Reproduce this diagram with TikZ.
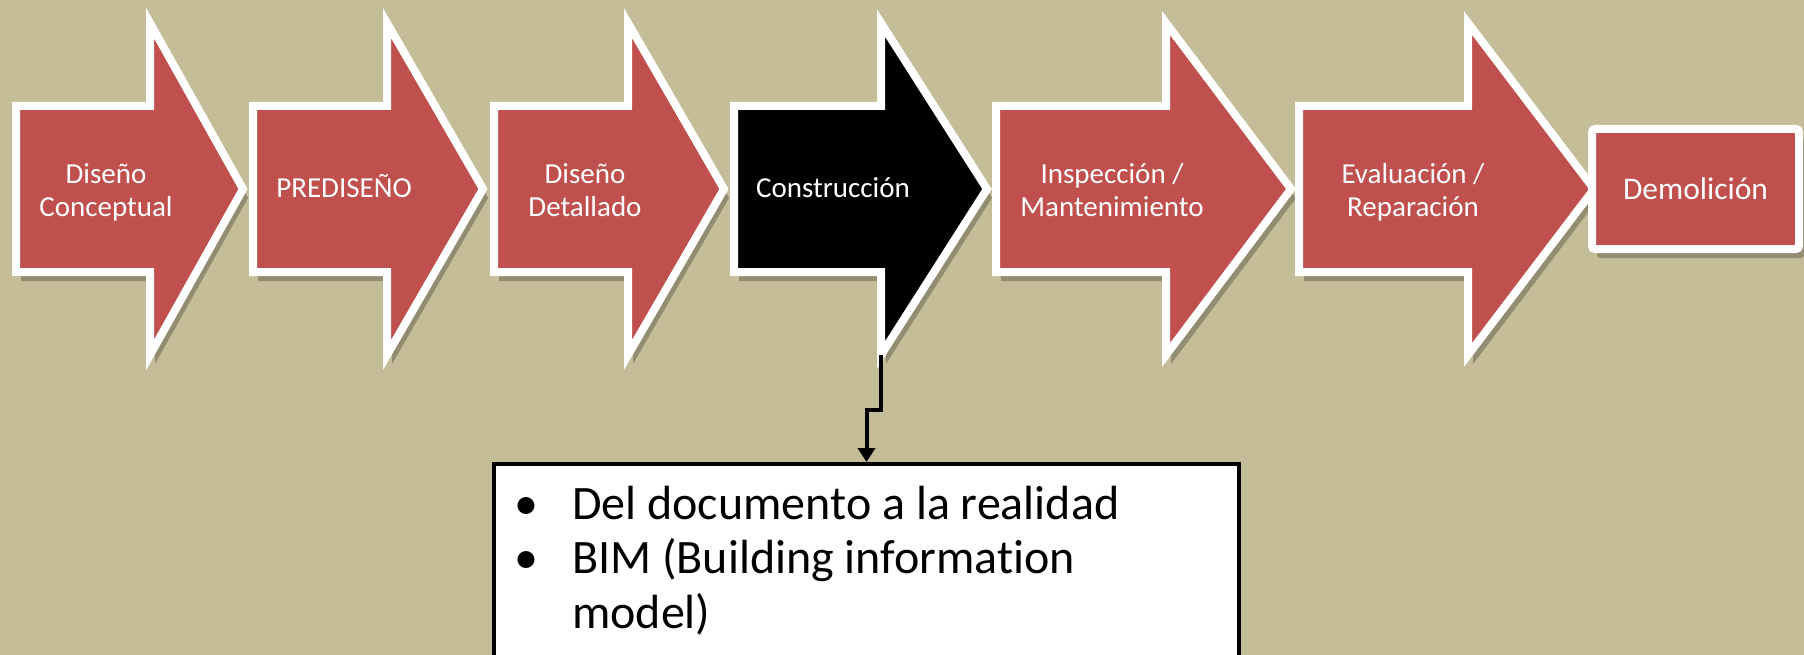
\documentclass[tikz,border=0pt]{standalone}
\usepackage{fontspec}
\setmainfont[Ligatures=NoCommon]{Carlito}
\usetikzlibrary{shadows,arrows.meta}
\definecolor{bgtan}{RGB}{196,189,151}
\definecolor{stagered}{RGB}{192,80,77}
\tikzset{
  stageshape/.style={draw=white, line width=8pt, line join=miter,
    drop shadow={shadow xshift=5pt, shadow yshift=-9pt, opacity=0.25, fill=black}},
  stagelabel/.style={text=white, inner sep=0pt, anchor=base,
    font={\fontsize{29pt}{33pt}\selectfont}},
  conn/.style={draw=black, line width=4pt, -{Triangle[width=17pt,length=14pt]}},
}
% name, left x, head base x, tip x, fill colour
\newcommand\stagearrow[5]{%
  \path[stageshape, fill=#5] (#2,106) -- (#3,106) -- (#3,23) -- (#4,189)
     -- (#3,355) -- (#3,272) -- (#2,272) -- cycle;
  \coordinate (#1-bot) at (#3,355);
}
\begin{document}
\begin{tikzpicture}[x=1pt,y=-1pt]
\useasboundingbox (0,0) rectangle (1804,655);
\fill[bgtan] (0,0) rectangle (1804,655);
\clip (0,0) rectangle (1804,655);

\stagearrow{a1}{16}{150}{243}{stagered}
\stagearrow{a2}{253}{387}{483}{stagered}
\stagearrow{a3}{494}{628}{724}{stagered}
\stagearrow{a4}{734}{881}{987}{black}
\stagearrow{a5}{996}{1166}{1291}{stagered}
\stagearrow{a6}{1299}{1468}{1594}{stagered}

\node[stageshape, fill=stagered, rounded corners=3pt, minimum width=207pt,
      minimum height=120pt, inner sep=0pt, text=white,
      font={\fontsize{31.5pt}{36pt}\selectfont}] (demo) at (1695.5,189) {Demolición};

\node[stagelabel] (l1) at (106,184) {\begin{tabular}[t]{@{}c@{}}Diseño\\Conceptual\end{tabular}};
\node[stagelabel] (l2) at (344,198) {PREDISEÑO};
\node[stagelabel] (l3) at (585,184) {\begin{tabular}[t]{@{}c@{}}Diseño\\Detallado\end{tabular}};
\node[stagelabel] (l4) at (833,198) {Construcción};
\node[stagelabel] (l5) at (1112,184) {\begin{tabular}[t]{@{}c@{}}Inspección /\\Mantenimiento\end{tabular}};
\node[stagelabel] (l6) at (1413,184) {\begin{tabular}[t]{@{}c@{}}Evaluación /\\Reparación\end{tabular}};

\node[draw=black, line width=4pt, fill=white, minimum width=745pt,
      minimum height=230pt, anchor=north, inner sep=0pt] (box) at (866.5,462) {};
\node[anchor=base west, inner sep=0pt, font={\fontsize{48pt}{54.5pt}\selectfont}]
  (boxtext) at (514,519)
  {\begin{tabular}[t]{@{}l@{}l@{}}\makebox[58pt][l]{\textbullet} & Del documento a la realidad\\
   \makebox[58pt][l]{\textbullet} & BIM (Building information\\
   & model)\end{tabular}};

\draw[conn] (a4-bot) |- ([yshift=52pt]box.north) -- (box.north);
\end{tikzpicture}
\end{document}
